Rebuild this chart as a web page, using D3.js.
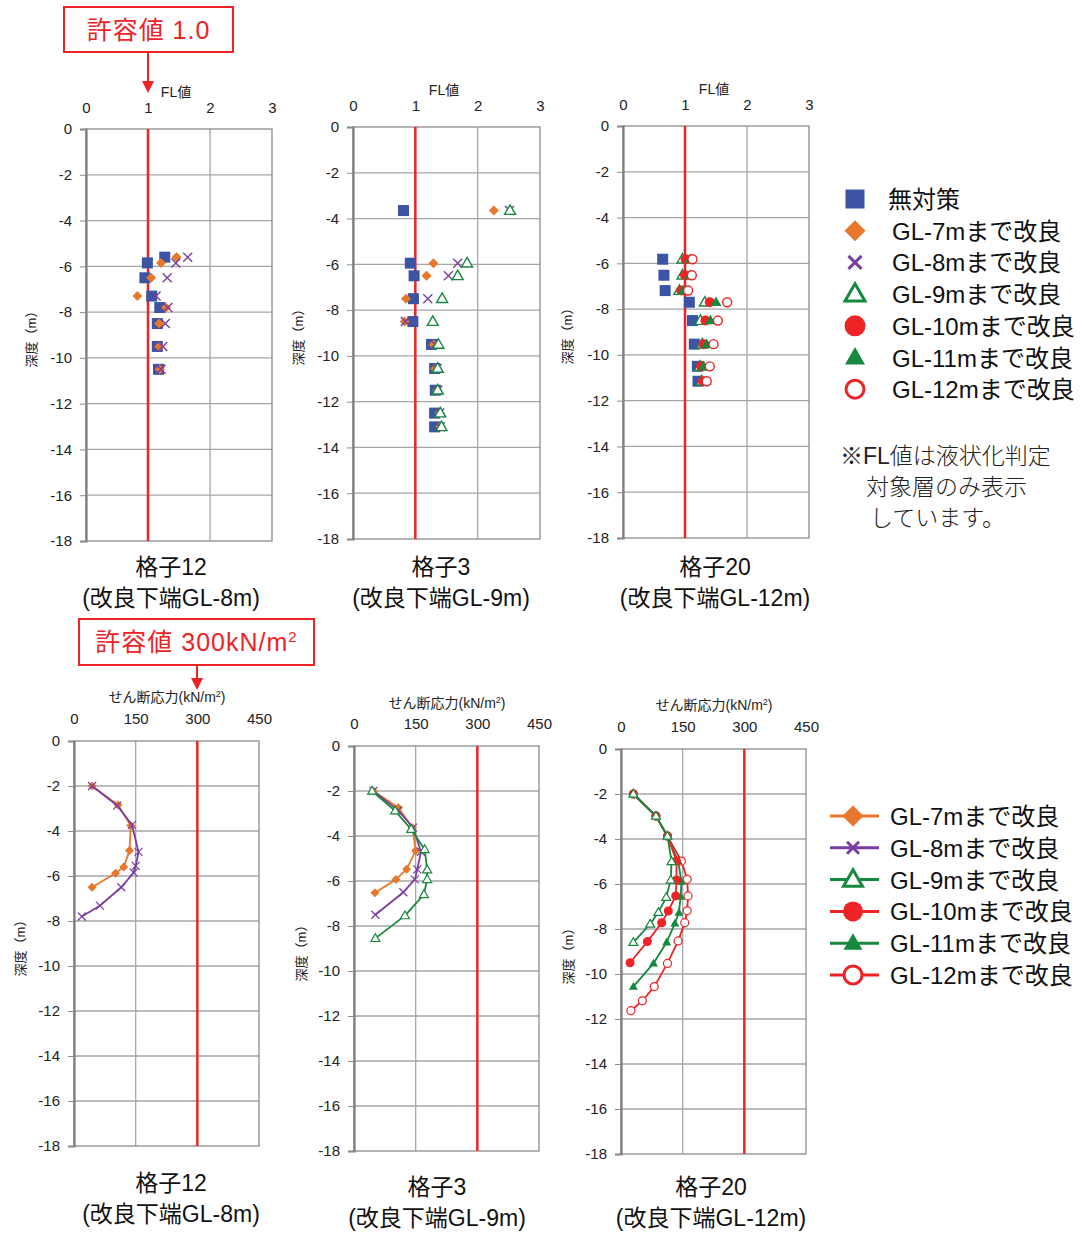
<!DOCTYPE html>
<html><head><meta charset="utf-8">
<script src="https://cdn.jsdelivr.net/npm/d3@7"></script>
<style>body{margin:0;background:#fff;} text{font-family:"Liberation Sans","Noto Sans CJK JP",sans-serif;}</style>
</head><body>
<svg id="c" width="1084" height="1234"></svg>
<script>
// ---------- DATA ----------
// Top: FL values
const flTicksX = [0,1,2,3];
const depthTicks = [0,-2,-4,-6,-8,-10,-12,-14,-16,-18];
const g12Depth = [-5.6,-5.85,-6.5,-7.3,-7.8,-8.5,-9.5,-10.5];
const g12None  = [1.27,0.99,0.95,1.06,1.19,1.15,1.15,1.17];
const g12Gl7   = [1.46,1.21,1.05,0.83,1.29,1.18,1.18,1.19];
const g12Gl8   = [1.64,1.45,1.31,1.13,1.32,1.28,1.24,1.21];

const g3Depth = [-3.65,-5.95,-6.5,-7.5,-8.5,-9.5,-10.55,-11.5,-12.5,-13.1];
const g3None  = [0.81,0.92,0.98,0.97,0.96,1.26,1.31,1.32,1.31,1.31];
const g3Gl7   = [2.26,1.29,1.18,0.85,0.83,1.29,1.32,1.35,1.39,1.40];
const g3Gl8   = [2.51,1.68,1.53,1.20,0.84,1.32,1.35,1.36,1.39,1.40];
const g3Gl9   = [2.52,1.83,1.68,1.43,1.28,1.37,1.36,1.36,1.40,1.42];

const g20Depth = [-5.82,-6.52,-7.19,-7.7,-8.5,-9.53,-10.5,-11.15];
const g20None  = [0.64,0.66,0.68,1.07,1.12,1.15,1.20,1.21];
const g20Gl9   = [0.96,0.96,0.91,1.32,1.25,1.28,1.24,1.27];
const g20Gl10  = [1.01,1.00,0.94,1.40,1.33,1.30,1.26,1.29];
const g20Gl11  = [1.08,1.08,0.97,1.50,1.41,1.35,1.30,1.34];
const g20Gl12  = [1.12,1.11,1.05,1.68,1.53,1.46,1.40,1.35];

// Bottom: shear stress (kN/m2)
const stressTicksX = [0,150,300,450];
const s12Gl7Depth = [-2,-2.84,-3.75,-4.87,-5.6,-5.88,-6.5];
const s12Gl7      = [44,107,138,135,121,101,44];
const s12Gl8Depth = [-2,-2.87,-3.73,-4.93,-5.55,-5.85,-6.5,-7.32,-7.8];
const s12Gl8      = [44,105,141,157,150,145,115,63,19];

const s3Gl7Depth = [-2,-2.74,-3.63,-4.65,-5.48,-5.93,-6.52];
const s3Gl7      = [47,108,142,150,128,102,51];
const s3Gl8Depth = [-2,-2.86,-3.63,-4.7,-5.48,-5.93,-6.5,-7.5];
const s3Gl8      = [47,107,144,163,154,148,120,52];
const s3Gl9Depth = [-2,-2.88,-3.7,-4.6,-5.5,-5.93,-6.6,-7.54,-8.55];
const s3Gl9      = [44,100,139,172,178,178,170,124,52];

const s20Gl9Depth  = [-2,-2.98,-3.87,-5.0,-5.82,-6.59,-7.26,-7.78,-8.59];
const s20Gl9       = [30,85,113,123,121,110,91,71,30];
const s20Gl10Depth = [-2,-2.98,-3.87,-4.98,-5.82,-6.53,-7.2,-7.72,-8.56,-9.5];
const s20Gl10      = [30,85,113,135,135,133,115,99,64,22];
const s20Gl11Depth = [-2,-2.98,-3.87,-4.98,-5.9,-6.56,-7.27,-7.75,-8.59,-9.53,-10.56];
const s20Gl11      = [30,85,113,139,147,145,141,131,111,79,30];
const s20Gl12Depth = [-2,-2.98,-3.87,-4.98,-5.79,-6.53,-7.19,-7.72,-8.53,-9.53,-10.56,-11.19,-11.63];
const s20Gl12      = [30,85,113,147,161,163,161,155,139,113,81,52,24];

const seriesNames = ["無対策","GL-7mまで改良","GL-8mまで改良","GL-9mまで改良","GL-10mまで改良","GL-11mまで改良","GL-12mまで改良"];
const lineNames = seriesNames.slice(1);
const titles = ["格子12","格子3","格子20"];
const subtitles = ["(改良下端GL-8m)","(改良下端GL-9m)","(改良下端GL-12m)"];
const noteLines = ["※FL値は液状化判定","対象層のみ表示","しています。"];

// ---------- STYLE ----------
const C = {blue:"#3b54a3", orange:"#e8762b", purple:"#7a3ea3", green:"#16893f", red:"#ee2326"};
const mk = {
  none:{type:"square", color:C.blue},
  gl7:{type:"diamond", color:C.orange},
  gl8:{type:"x", color:C.purple},
  gl9:{type:"triOpen", color:C.green},
  gl10:{type:"circle", color:C.red},
  gl11:{type:"tri", color:C.green},
  gl12:{type:"circleOpen", color:C.red}
};
const svg = d3.select("#c");
svg.append("rect").attr("width",1084).attr("height",1234).attr("fill","#fff");

function marker(g, type, x, y, s, color, sw){
  sw = sw || 1.5;
  if(type==="square"){
    g.append("rect").attr("x",x-s/2).attr("y",y-s/2).attr("width",s).attr("height",s).attr("fill",color);
  } else if(type==="diamond"){
    const h=s/2;
    g.append("path").attr("d",`M${x},${y-h}L${x+h},${y}L${x},${y+h}L${x-h},${y}Z`).attr("fill",color);
  } else if(type==="x"){
    const h=s/2;
    g.append("path").attr("d",`M${x-h},${y-h}L${x+h},${y+h}M${x-h},${y+h}L${x+h},${y-h}`).attr("stroke",color).attr("stroke-width",sw).attr("fill","none");
  } else if(type==="triOpen"||type==="tri"){
    const h=s/2, hh=s*0.866;
    const p=`M${x},${y-hh*0.6}L${x+h},${y+hh*0.4}L${x-h},${y+hh*0.4}Z`;
    if(type==="tri") g.append("path").attr("d",p).attr("fill",color);
    else g.append("path").attr("d",p).attr("fill","#fff").attr("stroke",color).attr("stroke-width",sw);
  } else if(type==="circle"){
    g.append("circle").attr("cx",x).attr("cy",y).attr("r",s/2).attr("fill",color);
  } else if(type==="circleOpen"){
    g.append("circle").attr("cx",x).attr("cy",y).attr("r",s/2).attr("fill","#fff").attr("stroke",color).attr("stroke-width",sw);
  }
}

const plainFmt = d => String(d);

function panel(o){
  const g = svg.append("g");
  const x = d3.scaleLinear().domain([0,o.xmax]).range([o.x0,o.x1]);
  const y = d3.scaleLinear().domain([0,-18]).range([o.y0,o.y1]);
  // gridlines
  depthTicks.forEach(t=>{ if(t!==0 && t!==-18) g.append("line").attr("x1",o.x0).attr("x2",o.x1).attr("y1",y(t)).attr("y2",y(t)).attr("stroke","#a6a6a6").attr("stroke-width",1.3); });
  o.xticks.forEach(t=>{ if(t!==0 && t!==o.xmax) g.append("line").attr("x1",x(t)).attr("x2",x(t)).attr("y1",o.y0).attr("y2",o.y1).attr("stroke","#a6a6a6").attr("stroke-width",1.3); });
  g.append("rect").attr("x",o.x0).attr("y",o.y0).attr("width",o.x1-o.x0).attr("height",o.y1-o.y0).attr("fill","none").attr("stroke","#8c8c8c").attr("stroke-width",1.3);
  // y axis
  const ya = d3.axisLeft(y).tickValues(depthTicks).tickFormat(plainFmt).tickSize(6).tickPadding(8);
  const yg = g.append("g").attr("transform",`translate(${o.x0},0)`).call(ya);
  yg.select(".domain").attr("stroke","#7f7f7f").attr("stroke-width",2.2);
  yg.selectAll(".tick line").attr("stroke","#8c8c8c");
  yg.selectAll("text").attr("font-size",15).attr("fill","#222").attr("font-family","Liberation Sans, sans-serif");
  // x axis (top)
  const xa = d3.axisTop(x).tickValues(o.xticks).tickFormat(plainFmt).tickSize(0).tickPadding(o.xpad);
  const xg = g.append("g").attr("transform",`translate(0,${o.y0})`).call(xa);
  xg.select(".domain").remove();
  xg.selectAll("text").attr("font-size",15).attr("fill","#222").attr("font-family","Liberation Sans, sans-serif");
  // limit line
  g.append("line").attr("x1",x(o.limit)).attr("x2",x(o.limit)).attr("y1",o.y0).attr("y2",o.y1).attr("stroke",C.red).attr("stroke-width",2.5);
  // header
  g.append("text").attr("x",o.hx).attr("y",o.hy).attr("text-anchor","middle").attr("font-size",14).attr("fill","#222").attr("font-family","Noto Sans CJK JP, sans-serif").html(o.header);
  // y label
  g.append("text").attr("transform",`translate(${o.lx},${o.ly}) rotate(-90)`).attr("text-anchor","middle").attr("font-size",13).attr("fill","#222").attr("font-family","Noto Sans CJK JP, sans-serif").text("深度（m）");
  // titles
  g.append("text").attr("x",o.tx).attr("y",o.ty).attr("text-anchor","middle").attr("font-size",23).attr("fill","#111").attr("font-family","Noto Sans CJK JP, sans-serif").text(o.title);
  g.append("text").attr("x",o.tx).attr("y",o.ty+31).attr("text-anchor","middle").attr("font-size",23).attr("fill","#111").attr("font-family","Noto Sans CJK JP, sans-serif").text(o.sub);
  return {g,x,y};
}

function scatter(p, depth, vals, key, s){
  const m = mk[key];
  vals.forEach((v,i)=>marker(p.g, m.type, p.x(v), p.y(depth[i]), s[m.type], m.color, 1.4));
}
function lineSeries(p, depth, vals, key, s){
  const m = mk[key];
  const pts = vals.map((v,i)=>[p.x(v), p.y(depth[i])]);
  p.g.append("path").attr("d",d3.line()(pts)).attr("fill","none").attr("stroke",m.color).attr("stroke-width",1.8);
  pts.forEach(q=>marker(p.g, m.type, q[0], q[1], s[m.type], m.color, 1.2));
}

const topSize = {square:11, diamond:10, x:9, triOpen:11, tri:11, circle:10, circleOpen:9};
const botSize = {diamond:9, x:8, triOpen:9, tri:9, circle:9, circleOpen:8};

// ---------- TOP PANELS ----------
const t1 = panel({x0:86,x1:272,y0:129,y1:541,xmax:3,xticks:flTicksX,xpad:16,limit:1,hx:176,hy:97,header:"FL値",lx:36,ly:336,tx:171,ty:575,title:titles[0],sub:subtitles[0]});
scatter(t1,g12Depth,g12None,"none",topSize);
scatter(t1,g12Depth,g12Gl7,"gl7",topSize);
scatter(t1,g12Depth,g12Gl8,"gl8",topSize);

const t2 = panel({x0:353,x1:540,y0:127,y1:539,xmax:3,xticks:flTicksX,xpad:16,limit:1,hx:444,hy:95,header:"FL値",lx:303,ly:334,tx:441,ty:575,title:titles[1],sub:subtitles[1]});
scatter(t2,g3Depth,g3None,"none",topSize);
scatter(t2,g3Depth,g3Gl7,"gl7",topSize);
scatter(t2,g3Depth,g3Gl8,"gl8",topSize);
scatter(t2,g3Depth,g3Gl9,"gl9",topSize);

const t3 = panel({x0:623,x1:809,y0:126,y1:538,xmax:3,xticks:flTicksX,xpad:16,limit:1,hx:714,hy:94,header:"FL値",lx:572,ly:333,tx:715,ty:575,title:titles[2],sub:subtitles[2]});
scatter(t3,g20Depth,g20None,"none",topSize);
scatter(t3,g20Depth,g20Gl9,"gl9",topSize);
scatter(t3,g20Depth,g20Gl10,"gl10",topSize);
scatter(t3,g20Depth,g20Gl11,"gl11",topSize);
scatter(t3,g20Depth,g20Gl12,"gl12",topSize);

// ---------- BOTTOM PANELS ----------
const hdr = "せん断応力(kN/m<tspan dy='-5' font-size='9'>2</tspan><tspan dy='5'>)</tspan>";
const b1 = panel({x0:74,x1:259,y0:741,y1:1146,xmax:450,xticks:stressTicksX,xpad:17,limit:300,hx:167,hy:702,header:hdr,lx:25,ly:945,tx:171,ty:1191,title:titles[0],sub:subtitles[0]});
lineSeries(b1,s12Gl7Depth,s12Gl7,"gl7",botSize);
lineSeries(b1,s12Gl8Depth,s12Gl8,"gl8",botSize);

const b2 = panel({x0:354,x1:539,y0:746,y1:1151,xmax:450,xticks:stressTicksX,xpad:17,limit:300,hx:447,hy:708,header:hdr,lx:306,ly:950,tx:437,ty:1195,title:titles[1],sub:subtitles[1]});
lineSeries(b2,s3Gl7Depth,s3Gl7,"gl7",botSize);
lineSeries(b2,s3Gl8Depth,s3Gl8,"gl8",botSize);
lineSeries(b2,s3Gl9Depth,s3Gl9,"gl9",botSize);

const b3 = panel({x0:621,x1:806,y0:749,y1:1154,xmax:450,xticks:stressTicksX,xpad:17,limit:300,hx:714,hy:710,header:hdr,lx:573,ly:953,tx:711,ty:1195,title:titles[2],sub:subtitles[2]});
lineSeries(b3,s20Gl12Depth,s20Gl12,"gl12",botSize);
lineSeries(b3,s20Gl11Depth,s20Gl11,"gl11",botSize);
lineSeries(b3,s20Gl10Depth,s20Gl10,"gl10",botSize);
lineSeries(b3,s20Gl9Depth,s20Gl9,"gl9",botSize);

// ---------- ANNOTATIONS ----------
function callout(bx,by,bw,bh,label,ax,ay2){
  svg.append("rect").attr("x",bx).attr("y",by).attr("width",bw).attr("height",bh).attr("fill","#fff").attr("stroke",C.red).attr("stroke-width",2);
  svg.append("text").attr("x",bx+bw/2).attr("y",by+bh/2+9).attr("text-anchor","middle").attr("font-size",25).attr("letter-spacing",1).attr("fill",C.red).attr("font-family","Noto Sans CJK JP, sans-serif").html(label);
  svg.append("line").attr("x1",ax).attr("x2",ax).attr("y1",by+bh).attr("y2",ay2-10).attr("stroke",C.red).attr("stroke-width",2);
  svg.append("path").attr("d",`M${ax-6},${ay2-12}L${ax+6},${ay2-12}L${ax},${ay2}Z`).attr("fill",C.red);
}
callout(64,7,169,45,"許容値 1.0",148,93);
callout(79,619,235,46,"許容値 300kN/m<tspan dy='-9' font-size='15'>2</tspan>",197,690);

// ---------- LEGENDS ----------
const legKeys = ["none","gl7","gl8","gl9","gl10","gl11","gl12"];
const legSize = {square:19, diamond:21, x:13, triOpen:20, tri:20, circle:21, circleOpen:18};
legKeys.forEach((k,i)=>{
  const yy = 199 + i*31.7;
  const m = mk[k];
  marker(svg, m.type, 855, yy, legSize[m.type], m.color, 3);
  svg.append("text").attr("x", i===0?888:892).attr("y",yy+9).attr("font-size",24).attr("fill","#111").attr("font-family","Noto Sans CJK JP, sans-serif").text(seriesNames[i]);
});
noteLines.forEach((t,i)=>{
  svg.append("text").attr("x",[840,866,870][i]).attr("y",464+i*31).attr("font-size",23).attr("fill","#222").attr("font-family","Noto Sans CJK JP, sans-serif").attr("font-weight",300).text(t);
});
const legKeys2 = ["gl7","gl8","gl9","gl10","gl11","gl12"];
const legSize2 = {diamond:21, x:12, triOpen:19, tri:19, circle:20, circleOpen:18};
legKeys2.forEach((k,i)=>{
  const yy = 816 + i*31.8;
  const m = mk[k];
  svg.append("line").attr("x1",830).attr("x2",879).attr("y1",yy).attr("y2",yy).attr("stroke",m.color).attr("stroke-width",3);
  marker(svg, m.type, 853, yy, legSize2[m.type], m.color, 3);
  svg.append("text").attr("x",890).attr("y",yy+9).attr("font-size",24).attr("fill","#111").attr("font-family","Noto Sans CJK JP, sans-serif").text(lineNames[i]);
});
</script>
</body></html>
